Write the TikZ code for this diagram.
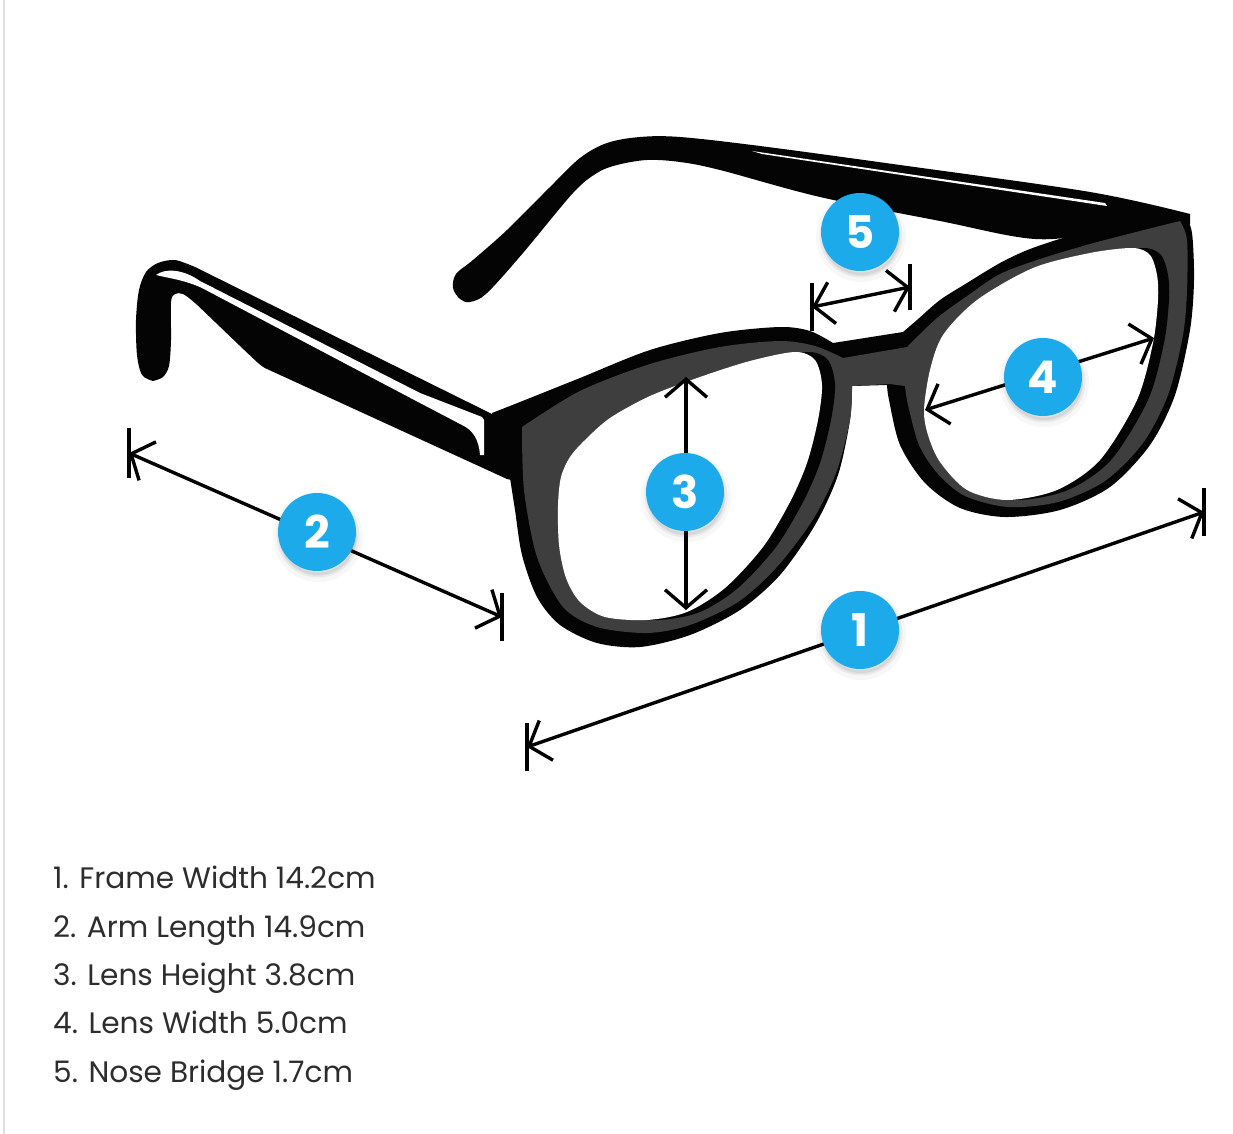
\documentclass[tikz,border=0pt]{standalone}
\usepackage{fontspec}
\setmainfont{Poppins}
\newfontfamily\badgefont{Poppins}
\usetikzlibrary{arrows.meta}
\definecolor{badgeblue}{RGB}{29,170,234}
\definecolor{framegray}{RGB}{62,62,62}
\definecolor{frameblack}{RGB}{4,4,4}
\definecolor{textgray}{RGB}{45,45,45}
\definecolor{bordergray}{RGB}{222,222,222}
\tikzset{
  dimline/.style={line width=3.4pt, draw=black,
    {Straight Barb[length=18pt,width=42pt]}-{Straight Barb[length=18pt,width=42pt]}},
  endtick/.style={line width=3.4pt, draw=black},
  badge/.style={circle, minimum size=78pt, inner sep=0pt, fill=badgeblue, text=white,
    font=\badgefont\bfseries\fontsize{45}{45}\selectfont,
    preaction={fill=black, draw=black, line width=12pt, opacity=0.03,
      transform canvas={xshift=1pt,yshift=-5pt}},
    preaction={fill=black, draw=black, line width=5pt, opacity=0.05,
      transform canvas={xshift=1pt,yshift=-4pt}}},
  listtext/.style={anchor=base west, inner sep=0pt, text=textgray,
    font=\fontsize{29.6}{29.6}\selectfont}
}
\begin{document}
\begin{tikzpicture}[x=1pt,y=-1pt]
\useasboundingbox (0,0) rectangle (1233,1134);
\fill[white] (0,0) rectangle (1233,1134);
% left border
\draw[bordergray, line width=1.8pt] (4.2,0) -- (4.2,1134);

% ---------- far (back) temple arm ----------
\fill[frameblack] plot[smooth, tension=0.55] coordinates {(1190,214) (1090,192) (900,165) (760,146) (680,137) (640,137) (607,143) (580,158) (550,187) (507,230) (473,260) (456,274) (453,288) (460,299) (470,302) (487,293) (523,253) (573,193) (597,173) (617,165) (647,160) (680,162) (720,170) (820,197) (940,221) (1035,239) (1110,232) (1190,224)} -- cycle;
\fill[white] (752,151) -- (1105,203) -- (1107,206) -- (762,154) -- cycle;

% ---------- near (left) temple arm ----------
\fill[frameblack] plot[smooth, tension=0.5] coordinates {(153,381) (142,375) (137,355) (136,320) (139,290) (146,272) (158,263) (175,260) (195,267)} -- (492,414) -- (505,425) -- (512,480) -- (507,479) -- (267,369) -- plot[smooth, tension=0.5] coordinates {(267,369) (257,362) (215,322) (195,303) (183,294) (175,294) (171,302) (171,340) (169,366) (163,377) (153,381)} -- cycle;
\fill[white] (156,275) .. controls (165,268) and (183,269) .. (200,281) -- (420,393) -- (482,417) -- (484,420) -- (484,455) -- (480,455) .. controls (479,440) and (473,430) .. (462,425) -- (420,403) -- (202,288) .. controls (185,280) and (168,278) .. (156,275) -- cycle;

% ---------- front frame silhouette ----------
\fill[frameblack] (492,413) -- plot[smooth] coordinates {(492,413) (520,402) (580,378) (650,350) (720,333) (780,327) (810,331) (833,343)} -- (903,332) -- plot[smooth] coordinates {(903,332) (917,320) (940,300) (967,283) (1000,263) (1030,249) (1070,236) (1120,225) (1185,214)} -- plot[smooth] coordinates {(1185,214) (1192,233) (1194,280) (1190,330) (1175,395) (1150,445) (1110,487) (1060,510) (1005,517) (960,508) (925,483) (900,445) (889,400) (887,385)} -- (852,386) -- plot[smooth] coordinates {(852,386) (850,420) (838,475) (815,525) (780,575) (740,610) (690,635) (640,647) (597,643) (560,625) (537,597) (522,555) (515,510) (510,478)} -- cycle;

% ---------- gray front face ----------
\fill[framegray] (522,427) -- plot[smooth] coordinates {(522,427) (580,391) (650,364) (720,347) (780,341) (815,346) (843,358)} -- (907,347) -- plot[smooth] coordinates {(907,347) (937,318) (970,294) (1000,274) (1040,259) (1090,244) (1140,231) (1180,221)} -- plot[smooth] coordinates {(1180,221) (1187,240) (1187,290) (1183,335) (1168,395) (1143,443) (1105,481) (1058,502) (1008,507) (965,496) (938,474) (919,445) (908,405) (905,386)} -- (890,384) -- (852,386) -- plot[smooth] coordinates {(852,386) (850,420) (836,473) (812,521) (776,568) (738,602) (690,625) (647,633) (597,627) (563,607) (537,557) (524,490) (522,427)} -- cycle;

% ---------- lens openings ----------
\fill[frameblack, xshift=13pt] plot[smooth cycle] coordinates {(558,505) (561,477) (570,457) (585,440) (610,418) (650,396) (700,377) (750,361) (795,352) (815,360) (822,385) (818,420) (807,463) (790,502) (763,547) (725,588) (687,612) (647,620) (605,617) (580,602) (566,578) (559,545)};
\fill[frameblack, xshift=11pt] plot[smooth cycle] coordinates {(924,410) (930,370) (943,335) (977,300) (1033,268) (1090,253) (1133,248) (1150,255) (1157,275) (1158,300) (1153,343) (1137,400) (1100,460) (1057,490) (1007,500) (967,490) (940,462) (928,435)};
\fill[white] plot[smooth cycle] coordinates {(558,505) (561,477) (570,457) (585,440) (610,418) (650,396) (700,377) (750,361) (795,352) (815,360) (822,385) (818,420) (807,463) (790,502) (763,547) (725,588) (687,612) (647,620) (605,617) (580,602) (566,578) (559,545)};
\fill[white] plot[smooth cycle] coordinates {(924,410) (930,370) (943,335) (977,300) (1033,268) (1090,253) (1133,248) (1150,255) (1157,275) (1158,300) (1153,343) (1137,400) (1100,460) (1057,490) (1007,500) (967,490) (940,462) (928,435)};

% ---------- dimension end points ----------
\coordinate (d1a) at (527,747);  \coordinate (d1b) at (1204,512);
\coordinate (d2a) at (129,453);  \coordinate (d2b) at (502,617);
\coordinate (d3a) at (686,377);  \coordinate (d3b) at (686,610);
\coordinate (d4a) at (925,410);  \coordinate (d4b) at (1154,338);
\coordinate (d5a) at (812,307);  \coordinate (d5b) at (910,287);

\draw[dimline] (d1a) -- (d1b);
\draw[dimline] (d2a) -- (d2b);
\draw[dimline] (d3a) -- (d3b);
\draw[dimline] (d4a) -- (d4b);
\draw[dimline] (d5a) -- (d5b);

\draw[endtick] (d1a) ++(0,-24) -- ++(0,48);
\draw[endtick] (d1b) ++(0,-24) -- ++(0,48);
\draw[endtick] (d2a) ++(0,-25) -- ++(0,50);
\draw[endtick] (d2b) ++(0,-24) -- ++(0,48);
\draw[endtick] (d5a) ++(0,-24) -- ++(0,48);
\draw[endtick] (d5b) ++(0,-23) -- ++(0,46);

% ---------- badges ----------
\node[badge] (b1) at (860,630) {1};
\node[badge] (b2) at (317,532) {2};
\node[badge] (b3) at (685,492) {3};
\node[badge] (b4) at (1043,377) {4};
\node[badge] (b5) at (860,232) {5};

% ---------- legend ----------
\node[listtext] (t1) at (53,888) {1. Frame Width 14.2cm};
\node[listtext] (t2) at (53,937) {2. Arm Length 14.9cm};
\node[listtext] (t3) at (53,985) {3. Lens Height 3.8cm};
\node[listtext] (t4) at (53,1033) {4. Lens Width 5.0cm};
\node[listtext] (t5) at (53,1082) {5. Nose Bridge 1.7cm};
\end{tikzpicture}
\end{document}
